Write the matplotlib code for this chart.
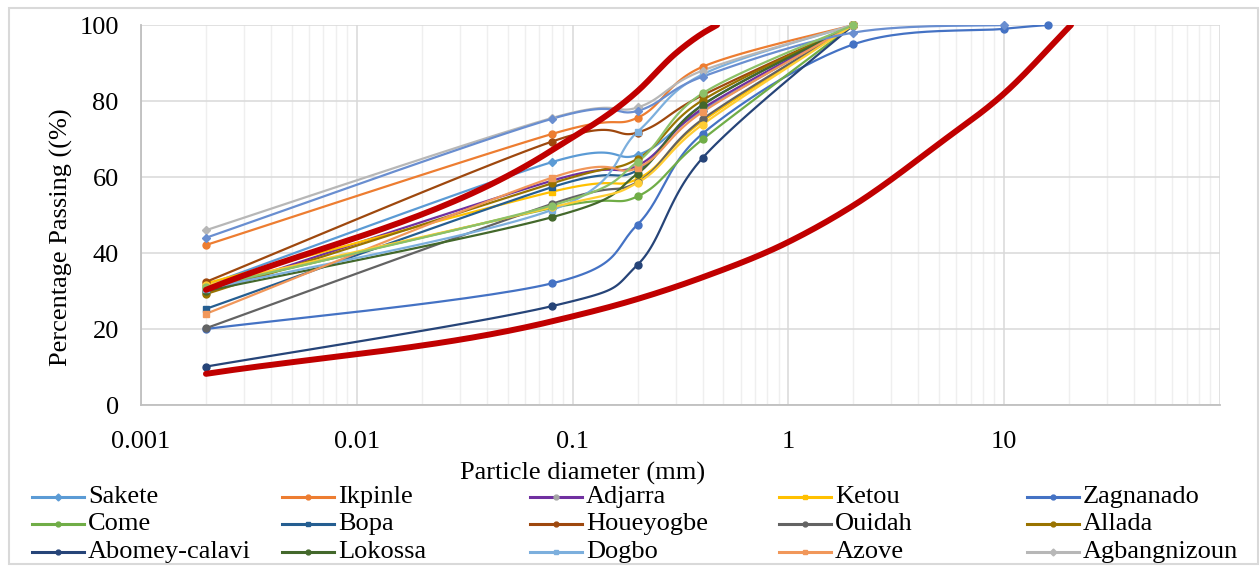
# Grain size distribution curves (Excel-style smoothed lines)
import numpy as np
import matplotlib
matplotlib.use("Agg")
import matplotlib.pyplot as plt
from matplotlib.lines import Line2D
from matplotlib.patches import Rectangle
from matplotlib.ticker import FixedLocator, LogLocator, NullFormatter

plt.rcParams['font.family'] = ['Liberation Serif', 'DejaVu Serif']

# sieve sizes (mm)
sizes = [0.002, 0.08, 0.2, 0.4, 2]
sizes_zag = [0.002, 0.08, 0.2, 0.4, 2, 10, 16]
sizes_extra_blue = [0.002, 0.08, 0.2, 0.4, 2, 10]

# percentage passing per site
sakete = [31.5, 63.9, 65.8, 77.5, 100]
ikpinle = [42.1, 71.3, 75.6, 89.0, 100]
adjarra = [29.5, 59.0, 63.0, 78.0, 100]
ketou = [32.0, 56.1, 59.5, 74.7, 100]
zagnanado = [20.0, 32.0, 47.5, 71.4, 94.9, 99.0, 100]
come = [30.8, 51.8, 54.9, 69.9, 100]
bopa = [25.3, 57.3, 61.8, 79.0, 100]
houeyogbe = [32.4, 69.3, 71.7, 81.5, 100]
ouidah = [20.2, 52.9, 58.7, 75.2, 100]
allada = [29.2, 58.3, 64.8, 80.2, 100]
abomey = [10.1, 26.0, 36.9, 65.0, 100]
lokossa = [30.0, 49.4, 60.9, 78.9, 100]
dogbo = [30.5, 51.3, 71.9, 87.0, 100]
azove = [24.0, 59.8, 62.4, 77.1, 100]
agbangnizoun = [46.0, 75.5, 78.3, 88.0, 100]
# series drawn but not shown in the legend
extra_blue = [44.0, 75.3, 77.4, 86.4, 98.0, 100]
extra_green = [31.0, 52.5, 64.0, 82.0, 100]
extra_yellow = [31.5, 52.0, 58.5, 73.8, 100]

# grading envelope (red)
env_up_x = [0.002, 0.08, 0.2, 0.3, 0.4, 0.467]
env_up_y = [30.3, 67.0, 82.6, 92.5, 97.8, 100]
env_lo_x = [0.002, 0.08, 0.2, 0.4, 1, 2, 5, 10, 20.4]
env_lo_y = [8.2, 22.0, 27.9, 33.6, 42.9, 52.5, 68.8, 82.0, 100]


def smooth(xs, ys, n=30):
    # cubic bezier through points in log-x space, like Excel "smoothed line"
    P = np.column_stack([np.log10(xs), np.asarray(ys, dtype=float)])
    out = []
    t = np.linspace(0, 1, n)[:, None]
    for i in range(len(P) - 1):
        p0 = P[i - 1] if i > 0 else P[i]
        p1, p2 = P[i], P[i + 1]
        p3 = P[i + 2] if i + 2 < len(P) else P[i + 1]
        c1 = p1 + (p2 - p0) / 6
        c2 = p2 - (p3 - p1) / 6
        seg = (1 - t)**3 * p1 + 3 * (1 - t)**2 * t * c1 + 3 * (1 - t) * t**2 * c2 + t**3 * p2
        out.append(seg if i == 0 else seg[1:])
    out = np.vstack(out)
    return 10**out[:, 0], out[:, 1]


def smooth_env(xs, ys, n=40):
    # hermite curve in log-x with non-uniform three-point slopes (no kinks)
    u = np.log10(xs)
    y = np.asarray(ys, dtype=float)
    h = np.diff(u)
    d = np.diff(y) / h
    m = np.empty_like(y)
    m[0], m[-1] = d[0], d[-1]
    for i in range(1, len(y) - 1):
        m[i] = (d[i - 1] * h[i] + d[i] * h[i - 1]) / (h[i - 1] + h[i])
    uu, yy = [], []
    for i in range(len(h)):
        s = np.linspace(0, 1, n)
        h00 = 2 * s**3 - 3 * s**2 + 1
        h10 = s**3 - 2 * s**2 + s
        h01 = -2 * s**3 + 3 * s**2
        h11 = s**3 - s**2
        seg = h00 * y[i] + h10 * h[i] * m[i] + h01 * y[i + 1] + h11 * h[i] * m[i + 1]
        uu.append(u[i] + s * h[i])
        yy.append(seg)
    return 10**np.concatenate(uu), np.concatenate(yy)


# name, x, y, line colour, marker, marker colour
series = [
    ("Sakete", sizes, sakete, '#5B9BD5', 'D', '#5B9BD5'),
    ("Ikpinle", sizes, ikpinle, '#ED7D31', 'o', '#ED7D31'),
    ("Adjarra", sizes, adjarra, '#7030A0', 'o', '#A5A5A5'),
    ("Ketou", sizes, ketou, '#FFC000', 's', '#FFC000'),
    ("Zagnanado", sizes_zag, zagnanado, '#4472C4', 'o', '#4472C4'),
    ("Come", sizes, come, '#70AD47', 'o', '#70AD47'),
    ("Bopa", sizes, bopa, '#255E91', 's', '#255E91'),
    ("Houeyogbe", sizes, houeyogbe, '#9E480E', 'o', '#9E480E'),
    ("Ouidah", sizes, ouidah, '#636363', 'o', '#636363'),
    ("Allada", sizes, allada, '#997300', 'o', '#997300'),
    ("Abomey-calavi", sizes, abomey, '#264478', 'o', '#264478'),
    ("Lokossa", sizes, lokossa, '#43682B', 'o', '#43682B'),
    ("Dogbo", sizes, dogbo, '#7CAFDD', 's', '#7CAFDD'),
    ("Azove", sizes, azove, '#F1975A', 's', '#F1975A'),
    ("Agbangnizoun", sizes, agbangnizoun, '#B7B7B7', 'D', '#B7B7B7'),
]
hidden = [
    (sizes, extra_yellow, '#FFCD33', 'o'),
    (sizes_extra_blue, extra_blue, '#698ED0', 'D'),
    (sizes, extra_green, '#8CC168', 'o'),
]

fig = plt.figure(figsize=(12.6, 5.67), dpi=100)
ax = fig.add_axes([141 / 1260, 1 - 405 / 567, (1220 - 141) / 1260, (405 - 25) / 567])

for name, xs, ys, lc, mk, mc in series:
    sx, sy = smooth(xs, ys)
    ax.plot(sx, sy, color=lc, lw=1.6, zorder=3)
    ax.plot(xs, ys, ls='none', marker=mk, ms=5 if mk != 'D' else 4.5,
            color=mc, zorder=4, clip_on=False)
for xs, ys, lc, mk in hidden:
    sx, sy = smooth(xs, ys)
    ax.plot(sx, sy, color=lc, lw=1.6, zorder=3)
    ax.plot(xs, ys, ls='none', marker=mk, ms=5 if mk != 'D' else 4.5,
            color=lc, zorder=4, clip_on=False)

for ex, ey in [(env_up_x, env_up_y), (env_lo_x, env_lo_y)]:
    sx, sy = smooth_env(ex, ey)
    ax.plot(sx, sy, color='#C00000', lw=4.3, zorder=5, solid_capstyle='round')

ax.set_xscale('log')
ax.set_xlim(0.001, 100)
ax.set_ylim(0, 100)
ax.xaxis.set_major_locator(FixedLocator([0.001, 0.01, 0.1, 1, 10, 100]))
ax.set_xticklabels(['0.001', '0.01', '0.1', '1', '10', ''])
ax.xaxis.set_minor_locator(LogLocator(base=10, subs=np.arange(2, 10)))
ax.xaxis.set_minor_formatter(NullFormatter())
ax.set_yticks([0, 20, 40, 60, 80, 100])

ax.grid(True, which='major', color='#D9D9D9', lw=1.1, zorder=0)
ax.grid(True, which='minor', axis='x', color='#EFEFEF', lw=1.0, zorder=0)
ax.set_axisbelow(True)
for s in ['top', 'right']:
    ax.spines[s].set_visible(False)
for s in ['left', 'bottom']:
    ax.spines[s].set_color('#BFBFBF')
    ax.spines[s].set_linewidth(1.3)
ax.tick_params(which='both', length=0)
ax.tick_params(axis='x', pad=19, labelsize=19)
ax.tick_params(axis='y', pad=16, labelsize=19)

fig.text(583 / 1260, 1 - 473 / 567, "Particle diameter (mm)", fontsize=19,
         ha='center', va='center')
fig.text(61 / 1260, 1 - 237 / 567, "Percentage Passing ((%)", fontsize=19,
         rotation=90, ha='center', va='center')

# legend, 5 equal columns filled row by row (like Excel)
col_x = [32, 282, 530, 779, 1027]
row_y = [497, 524, 552]
for i, (name, xs, ys, lc, mk, mc) in enumerate(series):
    x0 = col_x[i % 5]
    y0 = row_y[i // 5]
    fy = 1 - y0 / 567
    fig.add_artist(Line2D([x0 / 1260, (x0 + 52) / 1260], [fy, fy], color=lc, lw=2.2,
                          transform=fig.transFigure))
    fig.add_artist(Line2D([(x0 + 26) / 1260], [fy], marker=mk, ms=3.5, color=mc,
                          ls='none', transform=fig.transFigure))
    fig.text((x0 + 56) / 1260, fy, name, fontsize=19, ha='left', va='center')

fig.add_artist(Rectangle((9 / 1260, 3 / 567), 1249 / 1260, 556 / 567, fill=False,
                         edgecolor='#D9D9D9', lw=1.5, transform=fig.transFigure))

fig.savefig("out.png", dpi=100)
